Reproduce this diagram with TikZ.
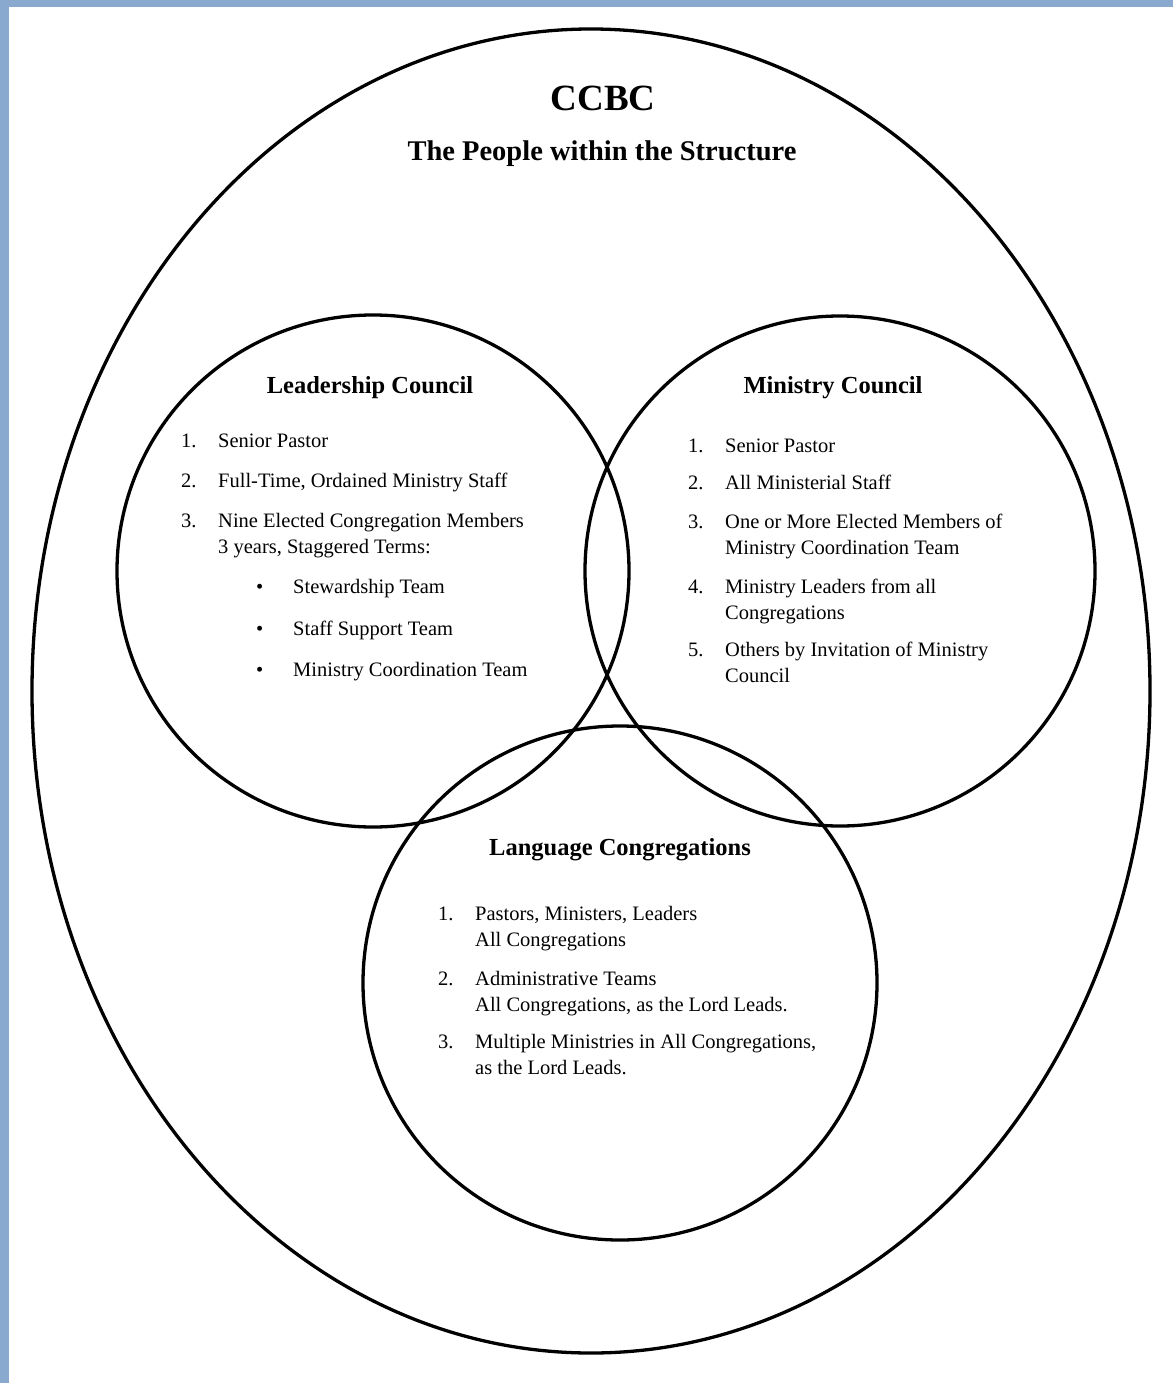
\documentclass[tikz,border=0pt]{standalone}
\usepackage{fontspec}
\setmainfont{Liberation Serif}
\usetikzlibrary{shapes.geometric}
\definecolor{framebl}{RGB}{137,170,206}
\tikzset{
  ring/.style={draw=black, line width=3.3pt, circle, inner sep=0pt},
  itm/.style={anchor=base west, inner sep=0pt, font=\fontsize{20.5}{24}\selectfont},
  num/.style={anchor=base west, inner sep=0pt, font=\fontsize{20.5}{24}\selectfont},
  head/.style={anchor=base, inner sep=0pt, font=\fontsize{24.5}{28}\selectfont\bfseries},
}
\begin{document}
\begin{tikzpicture}[x=1pt,y=-1pt]
\useasboundingbox (0,0) rectangle (1173,1383);
\fill[white] (0,0) rectangle (1173,1383);
\fill[framebl] (0,0) rectangle (1173,7.5);
\fill[framebl] (0,0) rectangle (8.5,1383);
% shapes
\node[draw=black, line width=3.3pt, ellipse, inner sep=0pt, minimum width=1118pt, minimum height=1324pt] (outer) at (591,691) {};
\node[ring, minimum size=512pt] (lc) at (373,571) {};
\node[ring, minimum size=510pt] (mc) at (840,571) {};
\node[ring, minimum size=514pt] (lg) at (620,983) {};
% title
\node[anchor=base, inner sep=0pt, font=\fontsize{37}{40}\selectfont\bfseries] (t1) at (603,111) {CCBC};
\node[anchor=base, inner sep=0pt, font=\fontsize{28.5}{32}\selectfont\bfseries] (t2) at (602,161) {The People within the Structure};
% Leadership Council
\node[head] (lch) at (370,393) {Leadership Council};
\node[num] (l1n) at (181,447) {1.};
\node[itm] (l1) at (218,447) {Senior Pastor};
\node[num] (l2n) at (181,487) {2.};
\node[itm] (l2) at (218,487) {Full-Time, Ordained Ministry Staff};
\node[num] (l3n) at (181,527) {3.};
\node[itm] (l3) at (218,527) {Nine Elected Congregation Members};
\node[itm] (l3b) at (218,553) {3 years, Staggered Terms:};
\node[num] (b1n) at (256,593) {\textbullet};
\node[itm] (b1) at (293,593) {Stewardship Team};
\node[num] (b2n) at (256,635) {\textbullet};
\node[itm] (b2) at (293,635) {Staff Support Team};
\node[num] (b3n) at (256,676) {\textbullet};
\node[itm] (b3) at (293,676) {Ministry Coordination Team};
% Ministry Council
\node[head] (mch) at (833,393) {Ministry Council};
\node[num] (m1n) at (688,452) {1.};
\node[itm] (m1) at (725,452) {Senior Pastor};
\node[num] (m2n) at (688,489) {2.};
\node[itm] (m2) at (725,489) {All Ministerial Staff};
\node[num] (m3n) at (688,528) {3.};
\node[itm] (m3) at (725,528) {One or More Elected Members of};
\node[itm] (m3b) at (725,554) {Ministry Coordination Team};
\node[num] (m4n) at (688,593) {4.};
\node[itm] (m4) at (725,593) {Ministry Leaders from all};
\node[itm] (m4b) at (725,619) {Congregations};
\node[num] (m5n) at (688,656) {5.};
\node[itm] (m5) at (725,656) {Others by Invitation of Ministry};
\node[itm] (m5b) at (725,682) {Council};
% Language Congregations
\node[head] (lgh) at (620,855) {Language Congregations};
\node[num] (g1n) at (438,920) {1.};
\node[itm] (g1) at (475,920) {Pastors, Ministers, Leaders};
\node[itm] (g1b) at (475,946) {All Congregations};
\node[num] (g2n) at (438,985) {2.};
\node[itm] (g2) at (475,985) {Administrative Teams};
\node[itm] (g2b) at (475,1011) {All Congregations, as the Lord Leads.};
\node[num] (g3n) at (438,1048) {3.};
\node[itm] (g3) at (475,1048) {Multiple Ministries in All Congregations,};
\node[itm] (g3b) at (475,1074) {as the Lord Leads.};
\end{tikzpicture}
\end{document}
